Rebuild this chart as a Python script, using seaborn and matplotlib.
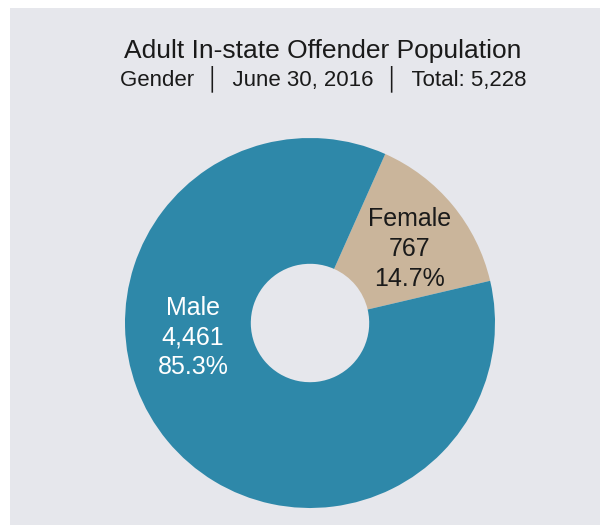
import matplotlib
matplotlib.use("Agg")
import matplotlib.pyplot as plt
import seaborn as sns
from matplotlib.patches import Rectangle

# data
genders = ["Female", "Male"]
counts = [767, 4461]
shares = ["14.7%", "85.3%"]
colors = ["#CAB59B", "#2E88A9"]
label_colors = ["#1A1A1A", "white"]

title = "Adult In-state Offender Population"
subtitle = "Gender  \u2502  June 30, 2016  \u2502  Total: 5,228"

sns.set_theme(style="white")
plt.rcParams['font.family'] = ['Liberation Sans', 'DejaVu Sans']

bg = "#E6E7EC"
fig = plt.figure(figsize=(6, 5.25), dpi=100, facecolor="white")
# grey slide panel with a thin white margin top/left
fig.patches.append(Rectangle((10 / 600, -0.05), 1, 1.05 - 8 / 525, transform=fig.transFigure,
                             facecolor=bg, edgecolor="none", zorder=-1))

W, H = 600, 525
cx, cy, R = 310, 323, 185
ax = fig.add_axes([(cx - R) / W, (H - cy - R) / H, 2 * R / W, 2 * R / H])
ax.set_facecolor("none")
ax.set_zorder(2)

wedges, _ = ax.pie(counts, colors=colors, startangle=66, counterclock=False,
                   radius=1, wedgeprops=dict(width=0.68, edgecolor="none"))
ax.set_xlim(-1, 1)
ax.set_ylim(-1, 1)
ax.set_aspect("equal")
ax.axis("off")

# label anchors (in pie units)
label_pos = [(0.54, 0.40), (-0.632, -0.08)]
for g, n, s, c, (x, y) in zip(genders, counts, shares, label_colors, label_pos):
    ax.text(x, y, f"{g}\n{n:,}\n{s}", ha="center", va="center", fontsize=18,
            color=c, linespacing=1.3)

fig.text(323 / W, 1 - 58 / H, title, ha="center", va="baseline", fontsize=19, color="#1A1A1A")
fig.text(323 / W, 1 - 85 / H, subtitle, ha="center", va="baseline", fontsize=16, color="#1A1A1A")

fig.savefig("out.png", dpi=100, facecolor=fig.get_facecolor())
